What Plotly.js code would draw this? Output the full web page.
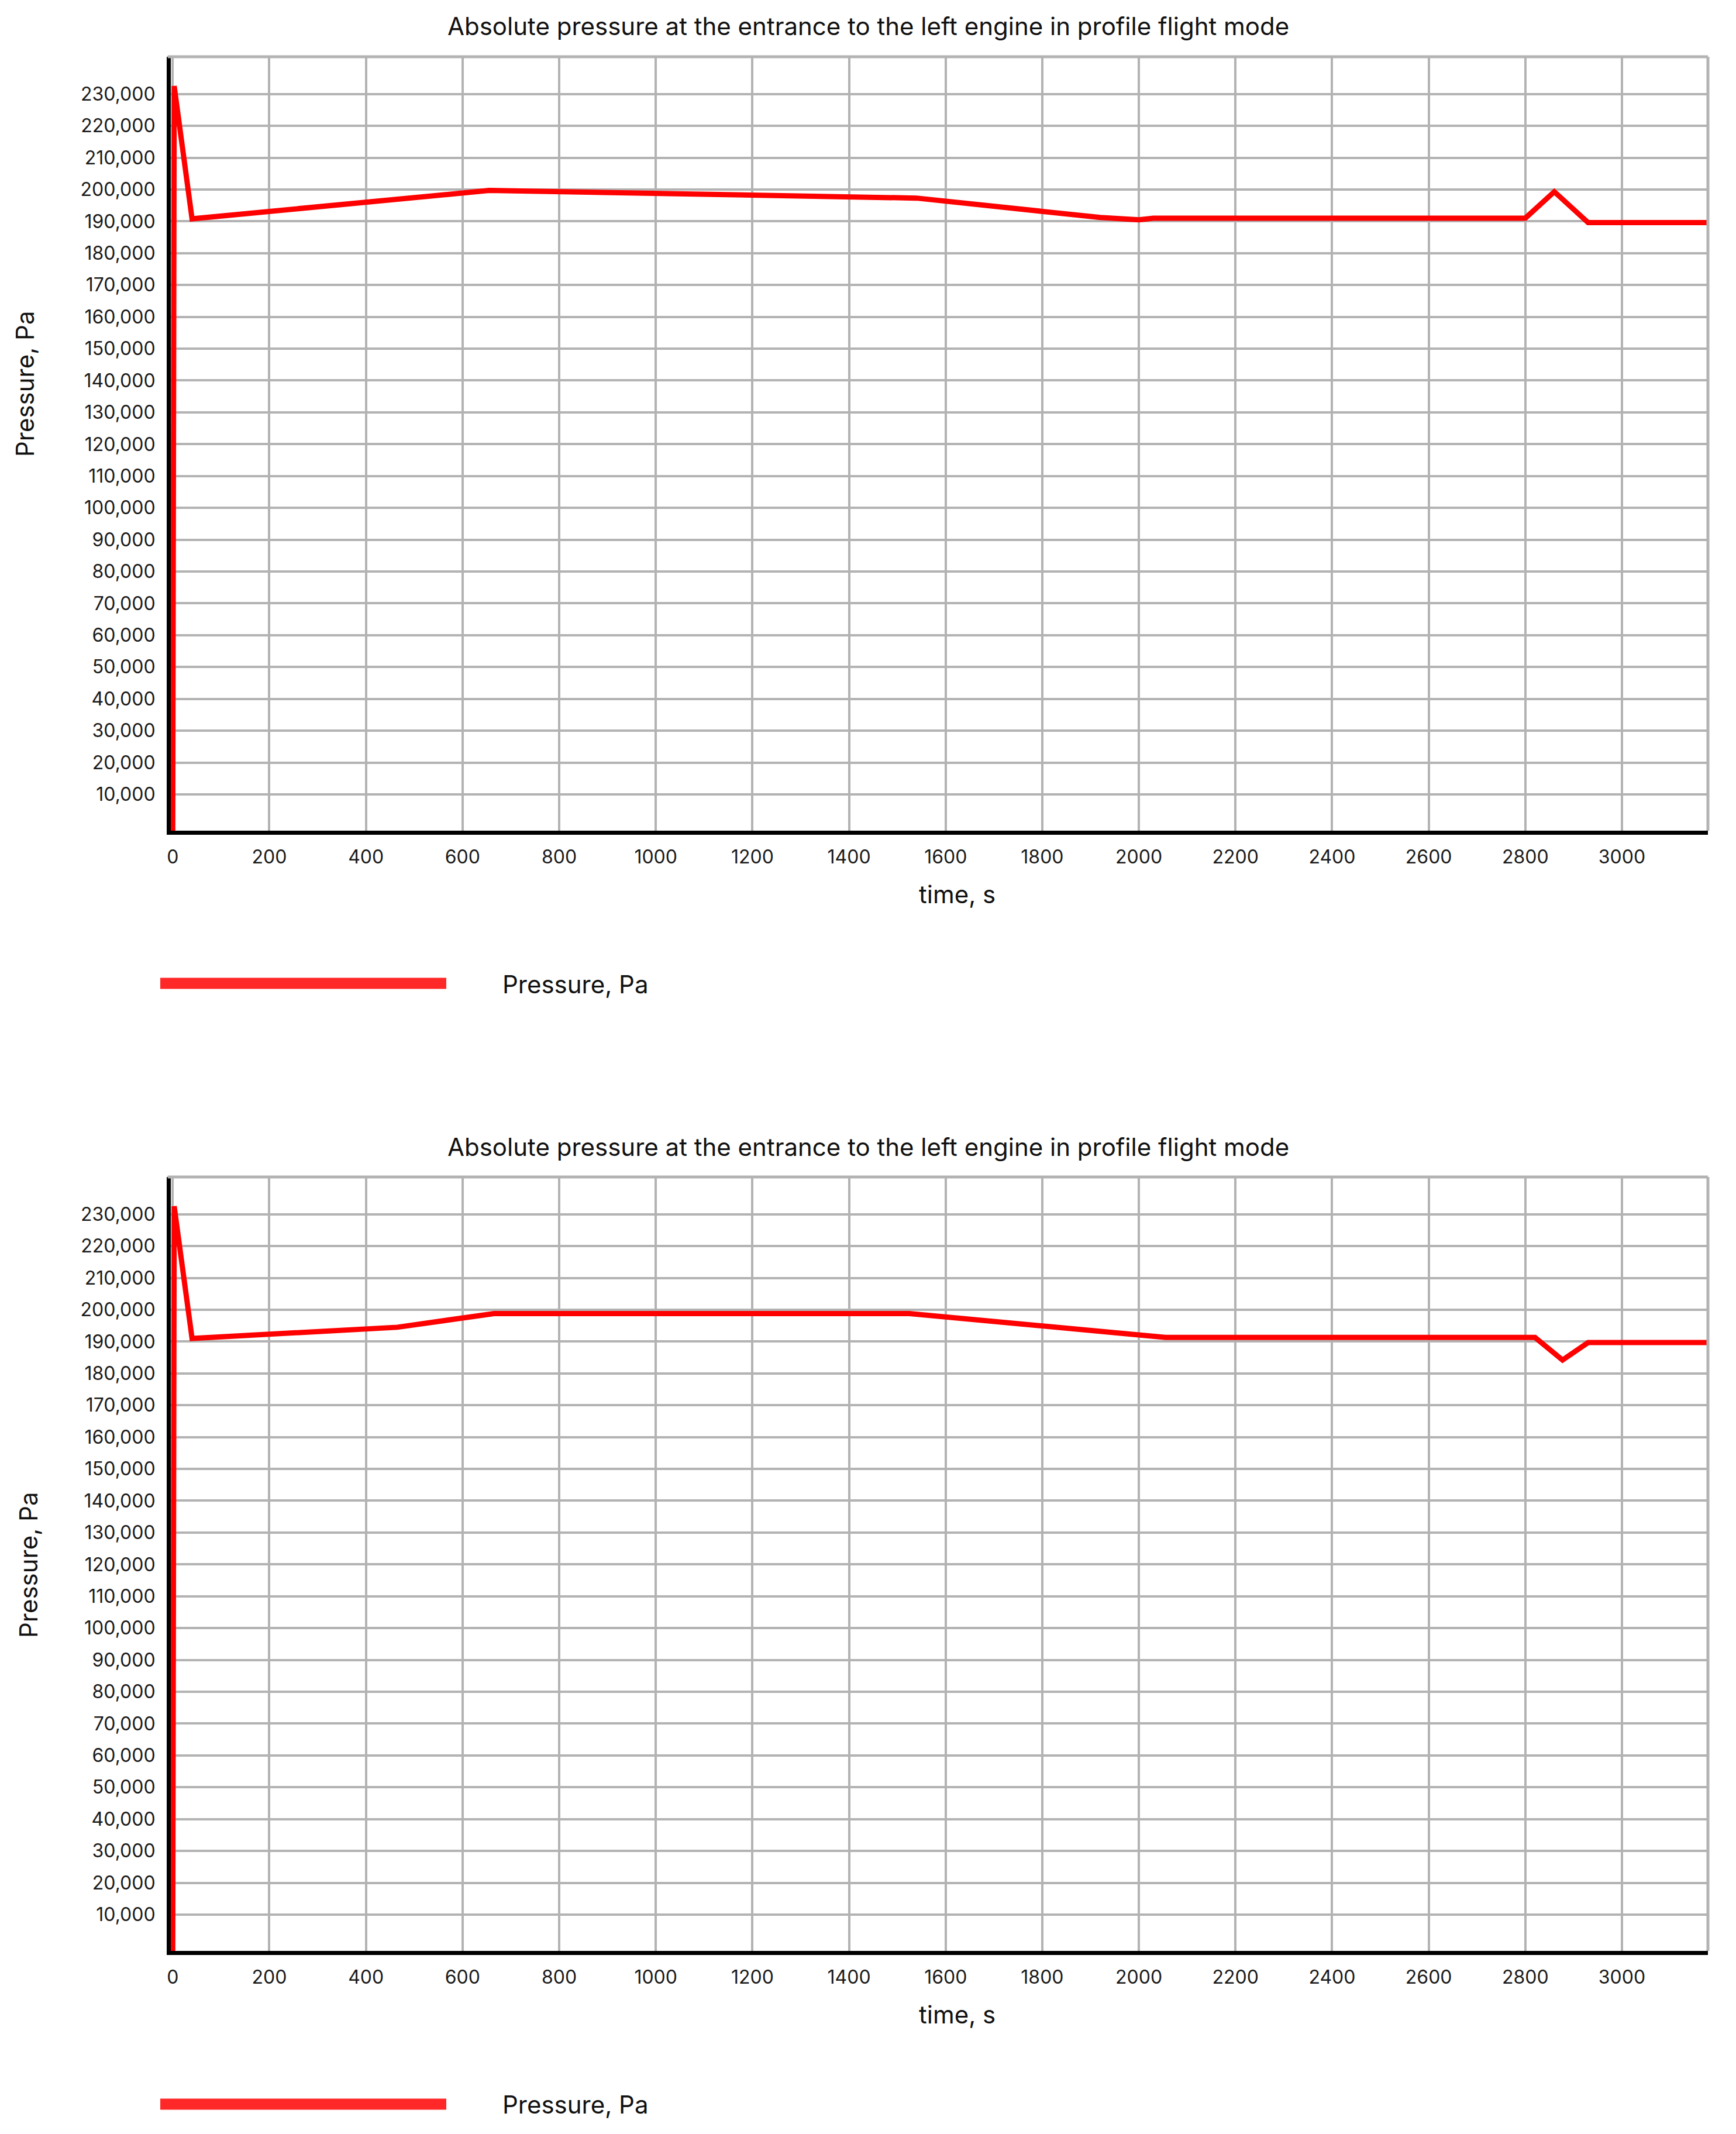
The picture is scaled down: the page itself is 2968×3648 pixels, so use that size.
<!DOCTYPE html>
<html>
<head>
<meta charset="utf-8">
<script src="https://cdn.plot.ly/plotly-3.0.1.min.js"></script>
<style>html,body{margin:0;padding:0;background:#fff;}</style>
</head>
<body>
<div id="chart" style="width:2968px;height:3648px;"></div>
<script>
// readings taken off the two panels (the first point sits on the axis line)
var timeTop = [0, 3, 40, 655, 1540, 1680, 1800, 1920, 2000, 2030, 2800, 2860, 2930, 3185];
var pressureTop = [-1400, 232500, 190800, 199700, 197300, 195000, 192900, 191200, 190500, 191000, 191000, 199300, 189600, 189600];

var timeBottom = [0, 3, 40, 465, 665, 1525, 2055, 2820, 2877, 2930, 3185];
var pressureBottom = [-1400, 232500, 191000, 194500, 198800, 198800, 191300, 191300, 184200, 189700, 189700];

var yTicks = [10000, 20000, 30000, 40000, 50000, 60000, 70000, 80000, 90000, 100000, 110000,
              120000, 130000, 140000, 150000, 160000, 170000, 180000, 190000, 200000, 210000,
              220000, 230000];
var xTicks = [0, 200, 400, 600, 800, 1000, 1200, 1400, 1600, 1800, 2000, 2200, 2400, 2600, 2800, 3000];

var chartTitle = 'Absolute pressure at the entrance to the left engine in profile flight mode';
var seriesName = 'Pressure, Pa';
var xTitle = 'time, s';

var W = 2968, H = 3648;
var px = function (v) { return v / W; };
var py = function (v) { return 1 - v / H; };

var fontFam = 'Inter, "Open Sans", sans-serif';
var gridGray = '#b3b3b3';

var trace1 = {
    x: timeTop, y: pressureTop,
    mode: 'lines', name: seriesName,
    xaxis: 'x', yaxis: 'y',
    line: {color: '#ff0000', width: 9}
};
var trace2 = {
    x: timeBottom, y: pressureBottom,
    mode: 'lines', name: seriesName,
    xaxis: 'x2', yaxis: 'y2',
    line: {color: '#ff0000', width: 9}
};

function xAxis(anchor) {
    return {
        anchor: anchor,
        domain: [px(292), px(2920)],
        range: [-4, 3178],
        tickvals: xTicks,
        showgrid: true, gridcolor: gridGray, gridwidth: 4,
        zeroline: false,
        showline: true, linecolor: '#000', linewidth: 7,
        ticks: '',
        ticklabelstandoff: 11,
        tickfont: {family: fontFam, size: 32, color: '#1a1a1a'}
    };
}
function yAxis(anchor, top, bottom) {
    return {
        anchor: anchor,
        domain: [py(bottom), py(top)],
        range: [-1400, 241700],
        tickvals: yTicks,
        tickformat: ',d',
        showgrid: true, gridcolor: gridGray, gridwidth: 4,
        zeroline: false,
        showline: true, linecolor: '#000', linewidth: 7,
        ticks: '',
        ticklabelstandoff: 13,
        tickfont: {family: fontFam, size: 32, color: '#1a1a1a'}
    };
}

function frame(xr, yr) {
    return [
        {type: 'line', xref: xr + ' domain', yref: yr + ' domain', x0: -0.002, x1: 1, y0: 1, y1: 1,
         line: {color: gridGray, width: 5}},
        {type: 'line', xref: xr + ' domain', yref: yr + ' domain', x0: 1, x1: 1, y0: 0, y1: 1,
         line: {color: gridGray, width: 5}}
    ];
}
function legendLine(yPix) {
    return {type: 'line', xref: 'paper', yref: 'paper', x0: px(274), x1: px(763), y0: py(yPix), y1: py(yPix),
            line: {color: '#ff2828', width: 19}};
}

function label(text, x, y, opts) {
    var a = {text: text, x: x, y: y, xref: 'paper', yref: 'paper', showarrow: false,
             xanchor: 'center', yanchor: 'middle',
             font: {family: fontFam, size: 42, color: '#111'}};
    for (var k in opts) a[k] = opts[k];
    return a;
}

var layout = {
    width: W, height: H,
    margin: {l: 0, r: 0, t: 0, b: 0},
    paper_bgcolor: '#fff', plot_bgcolor: '#fff',
    showlegend: false,
    xaxis: xAxis('y'),
    yaxis: yAxis('x', 97, 1420),
    xaxis2: xAxis('y2'),
    yaxis2: yAxis('x2', 2012, 3335),
    shapes: frame('x', 'y').concat(frame('x2', 'y2'), [legendLine(1681), legendLine(3597)]),
    annotations: [
        label(chartTitle, 0.5, py(44)),
        label(chartTitle, 0.5, py(1961)),
        label(xTitle, px(1636), py(1528)),
        label(xTitle, px(1636), py(3443)),
        label(seriesName, px(42), py(656), {textangle: -90}),
        label(seriesName, px(48), py(2675), {textangle: -90}),
        label(seriesName, px(857), py(1682), {xanchor: 'left'}),
        label(seriesName, px(857), py(3597), {xanchor: 'left'})
    ]
};

Plotly.newPlot('chart', [trace1, trace2], layout, {staticPlot: true});
</script>
</body>
</html>
